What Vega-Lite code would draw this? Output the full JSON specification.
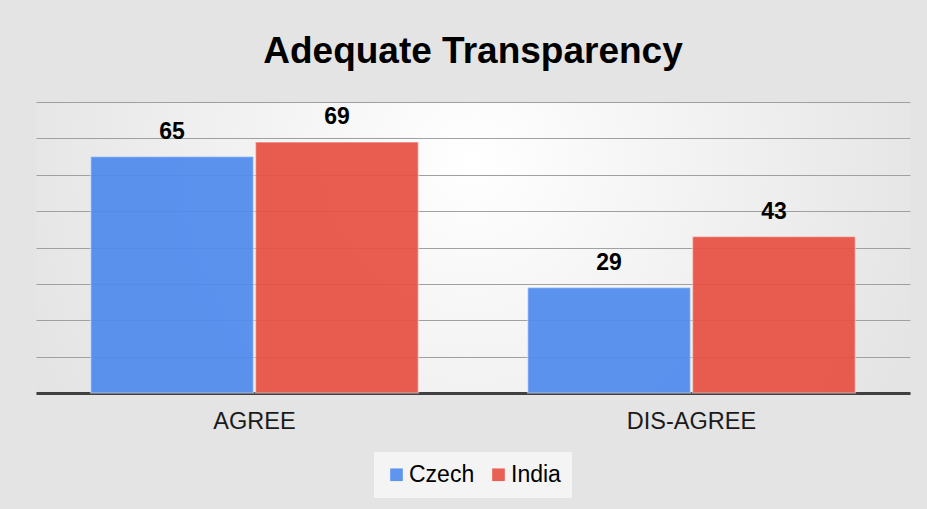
{
  "$schema": "https://vega.github.io/schema/vega-lite/v6.json",
  "width": 874,
  "height": 291,
  "autosize": {"type": "none"},
  "padding": {"left": 36, "top": 102, "right": 17, "bottom": 116},
  "background": "#e4e4e4",
  "config": {
    "view": {
      "stroke": null,
      "fill": {"gradient": "radial", "x1": 0.5, "y1": 0.4, "x2": 0.5, "y2": 0.4, "r1": 0, "r2": 0.75,
        "stops": [{"offset": 0, "color": "#ffffff"}, {"offset": 1, "color": "#dadada"}]}
    },
    "font": "Liberation Sans"
  },
  "title": {
    "text": "Adequate Transparency",
    "fontSize": 37,
    "fontWeight": "bold",
    "color": "#000000",
    "anchor": "middle",
    "offset": 31
  },
  "data": {
    "values": [
      {"category": "AGREE", "country": "Czech", "value": 65},
      {"category": "AGREE", "country": "India", "value": 69},
      {"category": "DIS-AGREE", "country": "Czech", "value": 29},
      {"category": "DIS-AGREE", "country": "India", "value": 43}
    ]
  },
  "encoding": {
    "x": {
      "field": "category", "type": "nominal", "title": null,
      "scale": {"paddingInner": 0.25, "paddingOuter": 0.125},
      "axis": {"labelAngle": 0, "labelFontSize": 23.5, "labelColor": "#1a1a1a", "labelPadding": 16, "ticks": false, "domain": true, "domainColor": "#404040", "domainWidth": 3}
    },
    "xOffset": {"field": "country", "type": "nominal", "scale": {"paddingInner": 0.012}},
    "y": {
      "field": "value", "type": "quantitative", "title": null,
      "scale": {"domain": [0, 80]},
      "axis": {"values": [0, 10, 20, 30, 40, 50, 60, 70, 80], "labels": false, "ticks": false, "domain": false, "gridColor": "#a0a0a0", "gridWidth": 1.2}
    }
  },
  "layer": [
    {
      "mark": {"type": "bar", "opacity": 0.93, "stroke": "#ffffff", "strokeOpacity": 0.45, "strokeWidth": 1.5},
      "encoding": {
        "color": {
          "field": "country", "type": "nominal", "title": null,
          "scale": {"domain": ["Czech", "India"], "range": ["#4f8bee", "#e85144"]},
          "legend": {"orient": "none", "legendX": 338, "legendY": 350, "direction": "horizontal", "symbolType": "square", "symbolSize": 160, "symbolOpacity": 0.9, "symbolStrokeWidth": 0, "labelFontSize": 23, "labelColor": "#000000", "columnPadding": 12, "fillColor": "#f4f4f4", "padding": 11, "labelOffset": 1}
        }
      }
    },
    {
      "mark": {"type": "text", "baseline": "alphabetic", "dy": -18, "fontSize": 23, "fontWeight": "bold", "color": "#000000"},
      "encoding": {"text": {"field": "value", "type": "quantitative"}}
    }
  ]
}
